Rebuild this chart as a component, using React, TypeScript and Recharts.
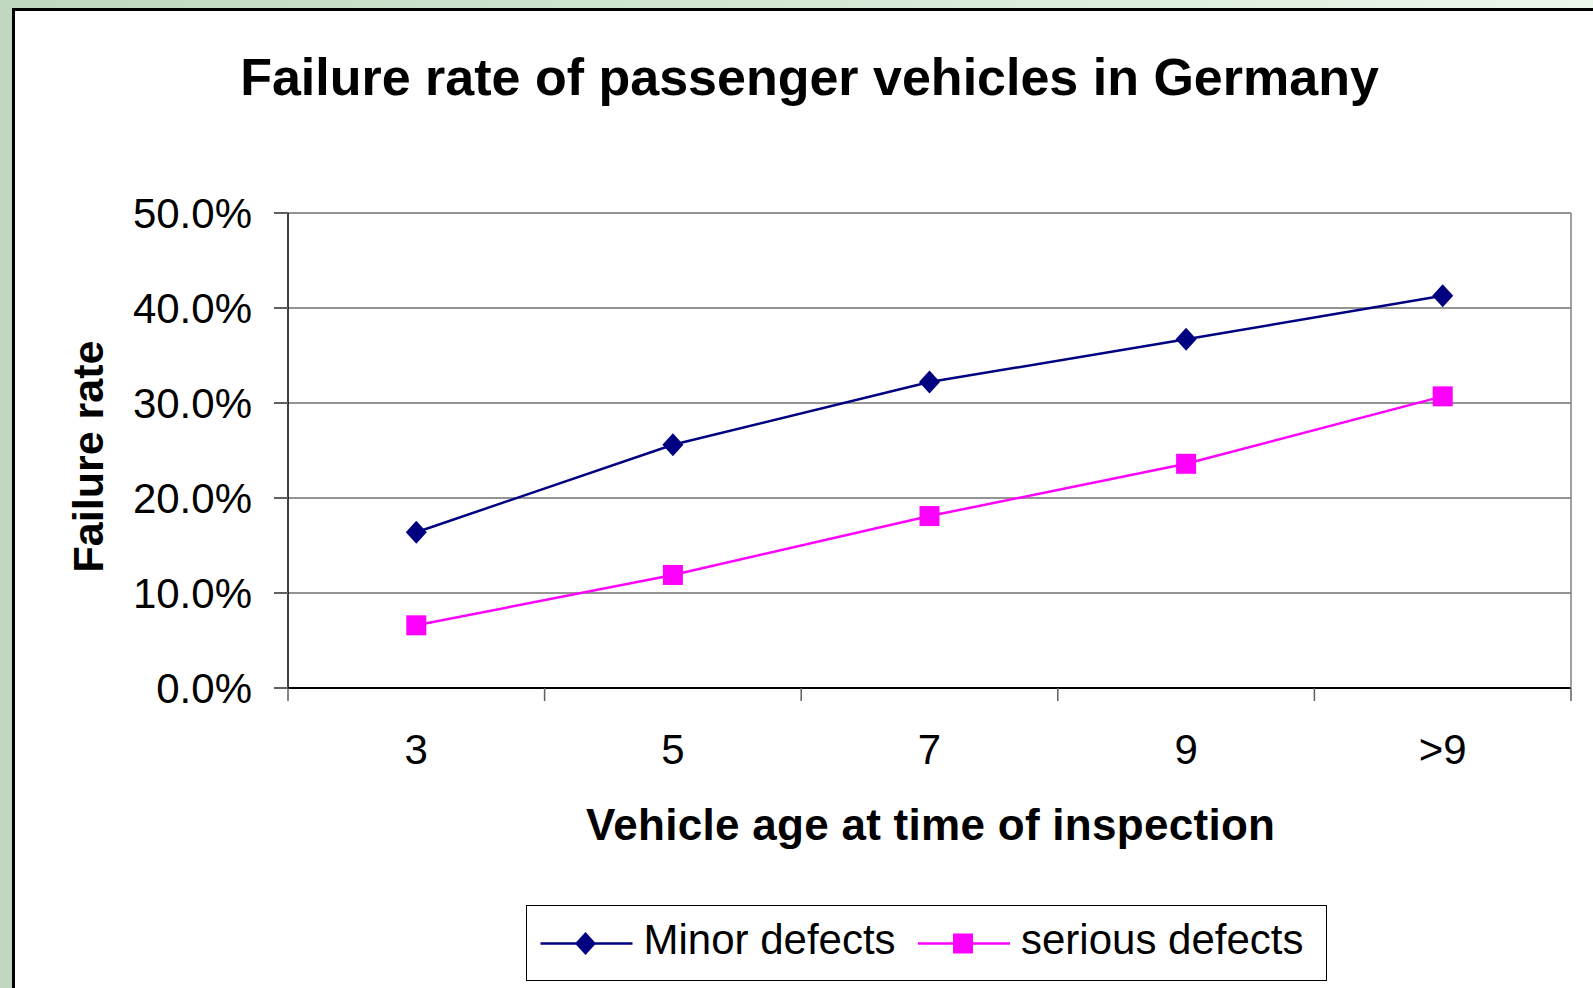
import React from 'react';
import { LineChart, Line, XAxis, YAxis, CartesianGrid, Legend } from 'recharts';

// ---- data ----
const ages = ['3', '5', '7', '9', '>9'];
const minorDefects = [16.4, 25.6, 32.2, 36.7, 41.3];
const seriousDefects = [6.6, 11.9, 18.1, 23.6, 30.7];
const yTicks = [0, 10, 20, 30, 40, 50];

const data = ages.map((age, i) => ({ age, minor: minorDefects[i], serious: seriousDefects[i] }));

const FONT = '"Liberation Sans", Arial, Helvetica, sans-serif';
const NAVY = '#000080';
const MAGENTA = '#FF00FF';
const TICK_GRAY = '#606060';

const W = 1593;
const H = 988;

const Y_TICK_SIZE = 14;
const Y_TICK_MARGIN = 22;
const X_TICK_MARGIN = 46;
const X_TICK_LEN = 13;

const diamondPoints = (cx: number, cy: number) =>
  `${cx},${cy - 11.5} ${cx + 10.5},${cy} ${cx},${cy + 11.5} ${cx - 10.5},${cy}`;

const renderDiamond = (p: any) => {
  if (p.cx == null || p.cy == null) return <g key={`dm-${p.index}`} />;
  return <polygon key={`dm-${p.index}`} points={diamondPoints(p.cx, p.cy)} fill={NAVY} />;
};

const renderSquare = (p: any) => {
  if (p.cx == null || p.cy == null) return <g key={`sq-${p.index}`} />;
  return <rect key={`sq-${p.index}`} x={p.cx - 10} y={p.cy - 10} width={20} height={20} fill={MAGENTA} />;
};

const YTick = (props: any) => {
  const { x, y, payload } = props;
  const lx1 = x + Y_TICK_MARGIN;
  const lx2 = lx1 + Y_TICK_SIZE;
  return (
    <g>
      <line x1={lx1} x2={lx2} y1={y} y2={y} stroke={TICK_GRAY} strokeWidth={2} />
      <text x={x} y={y} dy="0.355em" textAnchor="end" fontSize={42} fontFamily={FONT} fill="#000">
        {`${Number(payload.value).toFixed(1)}%`}
      </text>
    </g>
  );
};

const XTick = (props: any) => {
  const { x, y, payload, index, visibleTicksCount, width } = props;
  const count = visibleTicksCount || ages.length;
  const bw = (width || 0) / count;
  const axisY = y - X_TICK_MARGIN;
  const left = x - bw / 2;
  const right = x + bw / 2;
  return (
    <g>
      <line x1={left} x2={left} y1={axisY} y2={axisY + X_TICK_LEN} stroke={TICK_GRAY} strokeWidth={1.5} />
      {index === count - 1 && (
        <line x1={right} x2={right} y1={axisY} y2={axisY + X_TICK_LEN} stroke={TICK_GRAY} strokeWidth={1.5} />
      )}
      <text x={x} y={y} dy="0.71em" textAnchor="middle" fontSize={42} fontFamily={FONT} fill="#000">
        {payload.value}
      </text>
    </g>
  );
};

const renderYLabel = (props: any) => {
  const vb = props.viewBox || { x: 0, y: 0, width: 0, height: 0 };
  const x = vb.x + 102.5;
  const y = vb.y + vb.height / 2 + 6;
  return (
    <text
      transform={`translate(${x}, ${y}) rotate(-90)`}
      textAnchor="middle"
      fontSize={43}
      fontWeight="bold"
      fontFamily={FONT}
      fill="#000"
    >
      Failure rate
    </text>
  );
};

const renderXLabel = (props: any) => {
  const vb = props.viewBox || { x: 0, y: 0, width: 0, height: 0 };
  const x = vb.x + vb.width / 2 + 1;
  const y = vb.y + 152;
  return (
    <text
      x={x}
      y={y}
      textAnchor="middle"
      fontSize={44}
      fontWeight="bold"
      fontFamily={FONT}
      fill="#000"
      textLength={689}
      lengthAdjust="spacing"
    >
      Vehicle age at time of inspection
    </text>
  );
};

const renderLegend = (props: any) => {
  const payload = props.payload || [];
  return (
    <div
      style={{
        width: 801,
        height: 76,
        boxSizing: 'border-box',
        border: '1.5px solid #000',
        background: '#fff',
      }}
    >
      <svg width={798} height={73} style={{ display: 'block' }}>
        {payload.map((entry: any, i: number) => {
          const x0 = 13.5 + i * 377.5;
          const cy = 37.5;
          const mx = x0 + 45;
          const isMinor = entry.dataKey === 'minor';
          return (
            <g key={`lg-${i}`}>
              <line x1={x0} x2={x0 + 92} y1={cy} y2={cy} stroke={entry.color} strokeWidth={2.5} />
              {isMinor ? (
                <polygon points={diamondPoints(mx, cy)} fill={entry.color} />
              ) : (
                <rect x={mx - 10} y={cy - 10} width={20} height={20} fill={entry.color} />
              )}
              <text x={x0 + 103} y={47.5} fontSize={42} fontFamily={FONT} fill="#000">
                {entry.value}
              </text>
            </g>
          );
        })}
      </svg>
    </div>
  );
};

export default function App() {
  return (
    <div style={{ position: 'relative', width: W, height: H, overflow: 'hidden' }}>
      <style>{`body{margin:0;}`}</style>
      <div
        style={{
          position: 'absolute',
          left: 0,
          top: 0,
          width: W,
          height: H,
          background: 'linear-gradient(to right, #bfd8bf 0%, #d4e8d4 50%, #ecf7ec 100%)',
        }}
      />
      <div
        style={{
          position: 'absolute',
          left: 12,
          top: 8,
          width: W,
          height: H,
          background: '#fff',
          borderLeft: '3px solid #000',
          borderTop: '3px solid #000',
        }}
      />
      <div style={{ position: 'absolute', left: 0, top: 0 }}>
        <LineChart
          width={W}
          height={H}
          data={data}
          margin={{ top: 213, right: 21, bottom: 240, left: 0 }}
        >
          <CartesianGrid horizontal vertical={false} stroke="#2a2a2a" strokeWidth={1.2} />
          <XAxis
            dataKey="age"
            type="category"
            scale="band"
            height={60}
            axisLine={{ stroke: '#000', strokeWidth: 2 }}
            tickLine={false}
            tickSize={0}
            tickMargin={X_TICK_MARGIN}
            tick={<XTick />}
            interval={0}
            label={{ content: renderXLabel }}
          />
          <YAxis
            type="number"
            domain={[0, 50]}
            ticks={yTicks}
            width={288}
            axisLine={{ stroke: '#000', strokeWidth: 1.5 }}
            tickLine={false}
            tickSize={Y_TICK_SIZE}
            tickMargin={Y_TICK_MARGIN}
            tick={<YTick />}
            interval={0}
            label={{ content: renderYLabel }}
          />
          <YAxis
            yAxisId="r"
            orientation="right"
            width={1}
            axisLine={{ stroke: '#808080', strokeWidth: 1.5 }}
            tick={false}
            tickLine={false}
          />
          <Legend
            layout="vertical"
            align="center"
            verticalAlign="middle"
            content={renderLegend}
            wrapperStyle={{ left: 526, top: 905, width: 801, height: 76 }}
          />
          <Line
            type="linear"
            dataKey="minor"
            name="Minor defects"
            stroke={NAVY}
            strokeWidth={2.5}
            dot={renderDiamond}
            activeDot={false}
            isAnimationActive={false}
          />
          <Line
            type="linear"
            dataKey="serious"
            name="serious defects"
            stroke={MAGENTA}
            strokeWidth={2.5}
            dot={renderSquare}
            activeDot={false}
            isAnimationActive={false}
          />
        </LineChart>
      </div>
      <svg
        width={W}
        height={130}
        style={{ position: 'absolute', left: 0, top: 0, pointerEvents: 'none' }}
      >
        <text x={809.5} y={94.5} textAnchor="middle" fontSize={52} fontWeight="bold" fontFamily={FONT} fill="#000">
          Failure rate of passenger vehicles in Germany
        </text>
      </svg>
    </div>
  );
}
